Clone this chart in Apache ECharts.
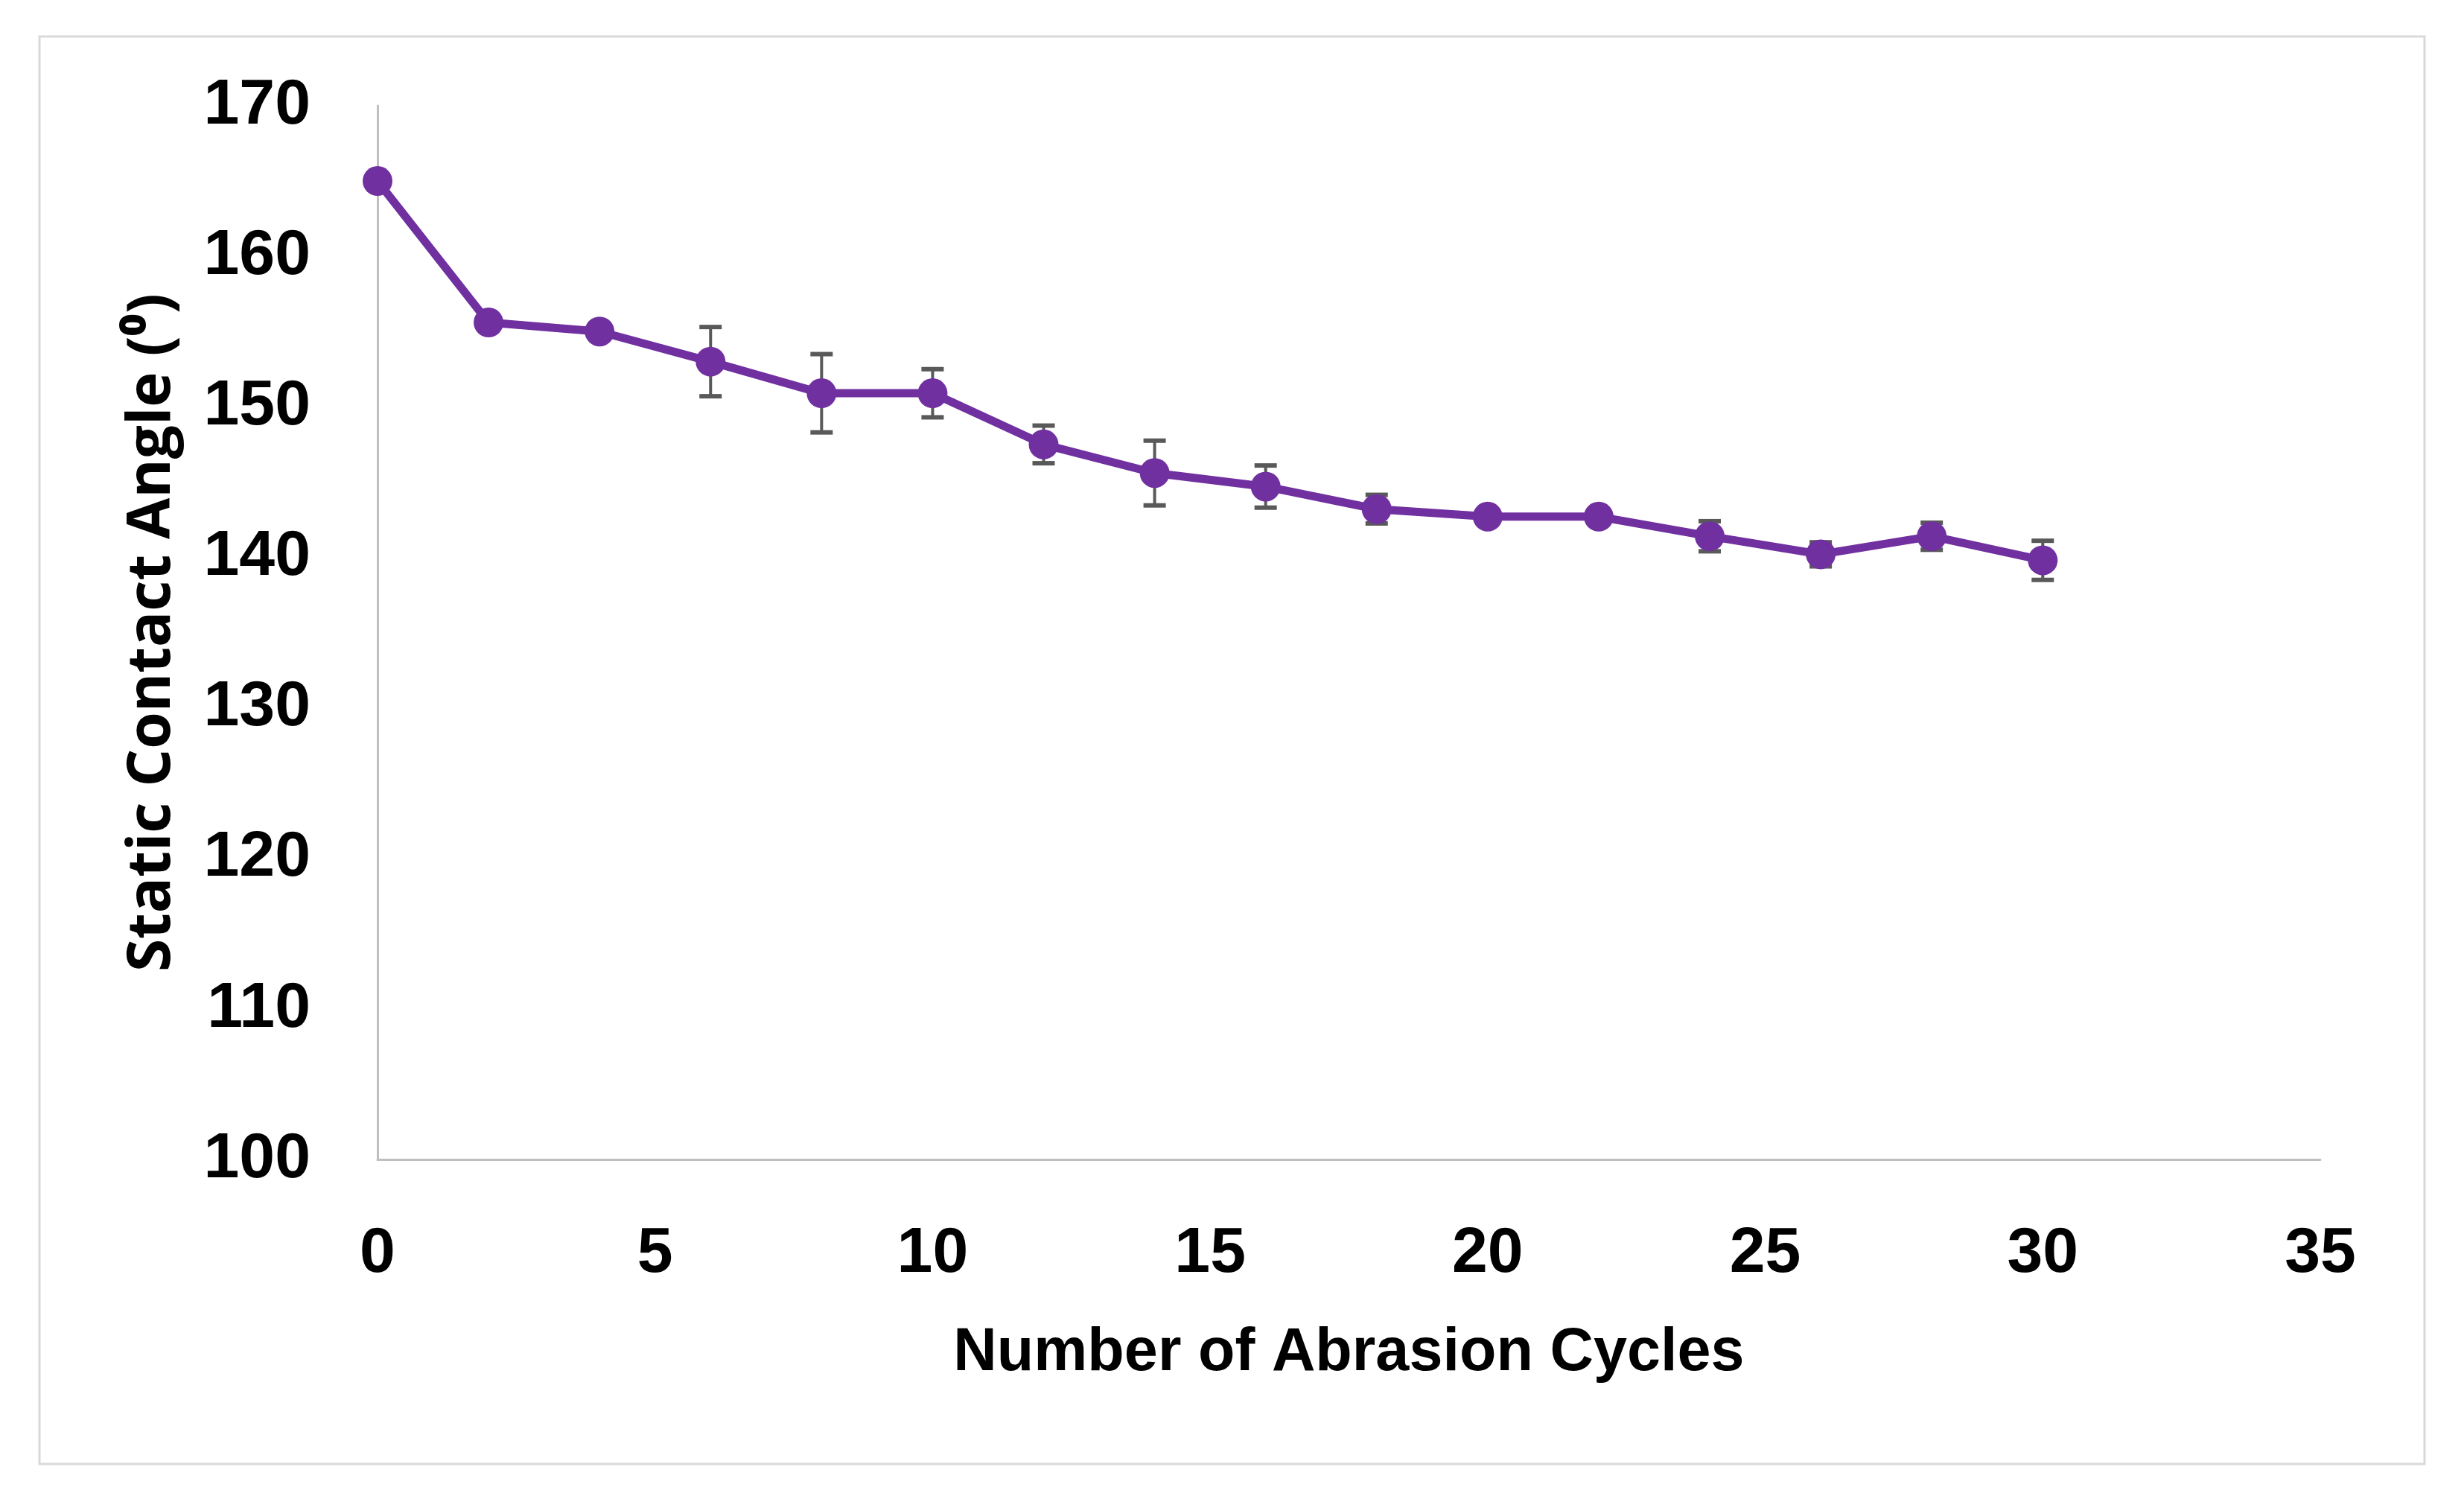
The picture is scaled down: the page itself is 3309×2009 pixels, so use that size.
<!DOCTYPE html>
<html>
<head>
<meta charset="utf-8">
<script src="https://cdn.jsdelivr.net/npm/echarts@6/dist/echarts.min.js"></script>
<style>
html,body{margin:0;padding:0;background:#fff;}
#chart{width:3309px;height:2009px;}
</style>
</head>
<body>
<div id="chart"></div>
<script>
const cycles = [0, 2, 4, 6, 8, 10, 12, 14, 16, 18, 20, 22, 24, 26, 28, 30];
const contactAngle = [165.0, 155.6, 155.0, 153.0, 150.9, 150.9, 147.5, 145.6, 144.7, 143.2, 142.7, 142.7, 141.4, 140.2, 141.4, 139.8];
const angleError = [0, 0, 0, 2.3, 2.6, 1.6, 1.25, 2.15, 1.4, 0.95, 0, 0, 1.0, 0.8, 0.9, 1.3];
const xTitle = 'Number of Abrasion Cycles';
const yTitle = 'Static Contact Angle (\u2070)';

const tickFont = "'Liberation Sans', Arial, sans-serif";
const purple = '#7030A0';

const lineData = cycles.map((c, i) => [c, contactAngle[i]]);
const errData = cycles.map((c, i) => [c, contactAngle[i] - angleError[i], contactAngle[i] + angleError[i], angleError[i]])
  .filter(d => d[3] > 0);

const chart = echarts.init(document.getElementById('chart'), null, {renderer: 'canvas', devicePixelRatio: 1});
chart.setOption({
  backgroundColor: '#ffffff',
  animation: false,
  graphic: [{
    type: 'rect',
    shape: {x: 53, y: 49, width: 3203, height: 1917},
    style: {fill: 'none', stroke: '#d9d9d9', lineWidth: 3},
    silent: true
  }],
  grid: {left: 507, right: 193, top: 142, bottom: 452, containLabel: false},
  xAxis: {
    type: 'value', min: 0, max: 35, interval: 5,
    name: xTitle, nameLocation: 'middle', nameGap: 220,
    nameTextStyle: {fontFamily: tickFont, fontWeight: 'bold', fontSize: 81, color: '#000'},
    axisLine: {show: true, lineStyle: {color: '#bfbfbf', width: 3}},
    axisTick: {show: false},
    splitLine: {show: false},
    axisLabel: {fontFamily: tickFont, fontWeight: 'bold', fontSize: 86, color: '#000', margin: 84}
  },
  yAxis: {
    type: 'value', min: 100, max: 170, interval: 10,
    name: yTitle, nameLocation: 'middle', nameGap: 262, nameRotate: 90,
    nameTextStyle: {fontFamily: "'Open Sans', sans-serif", fontWeight: 'bold', fontSize: 80, color: '#000'},
    axisLine: {show: true, lineStyle: {color: '#bfbfbf', width: 3}},
    axisTick: {show: false},
    splitLine: {show: false},
    axisLabel: {fontFamily: tickFont, fontWeight: 'bold', fontSize: 86, color: '#000', margin: 90}
  },
  series: [
    {
      type: 'custom',
      z: 1,
      data: errData,
      renderItem: function (params, api) {
        const x = api.value(0);
        const pLo = api.coord([x, api.value(1)]);
        const pHi = api.coord([x, api.value(2)]);
        const w = 15;
        return {
          type: 'group',
          children: [
            {type: 'line', shape: {x1: pLo[0], y1: pLo[1], x2: pHi[0], y2: pHi[1]}, style: {stroke: '#595959', lineWidth: 4}},
            {type: 'line', shape: {x1: pHi[0] - w, y1: pHi[1], x2: pHi[0] + w, y2: pHi[1]}, style: {stroke: '#595959', lineWidth: 6}},
            {type: 'line', shape: {x1: pLo[0] - w, y1: pLo[1], x2: pLo[0] + w, y2: pLo[1]}, style: {stroke: '#595959', lineWidth: 6}}
          ]
        };
      }
    },
    {
      type: 'line',
      z: 3,
      data: lineData,
      symbol: 'circle',
      symbolSize: 40,
      lineStyle: {color: purple, width: 11},
      itemStyle: {color: purple}
    }
  ]
});
</script>
</body>
</html>
